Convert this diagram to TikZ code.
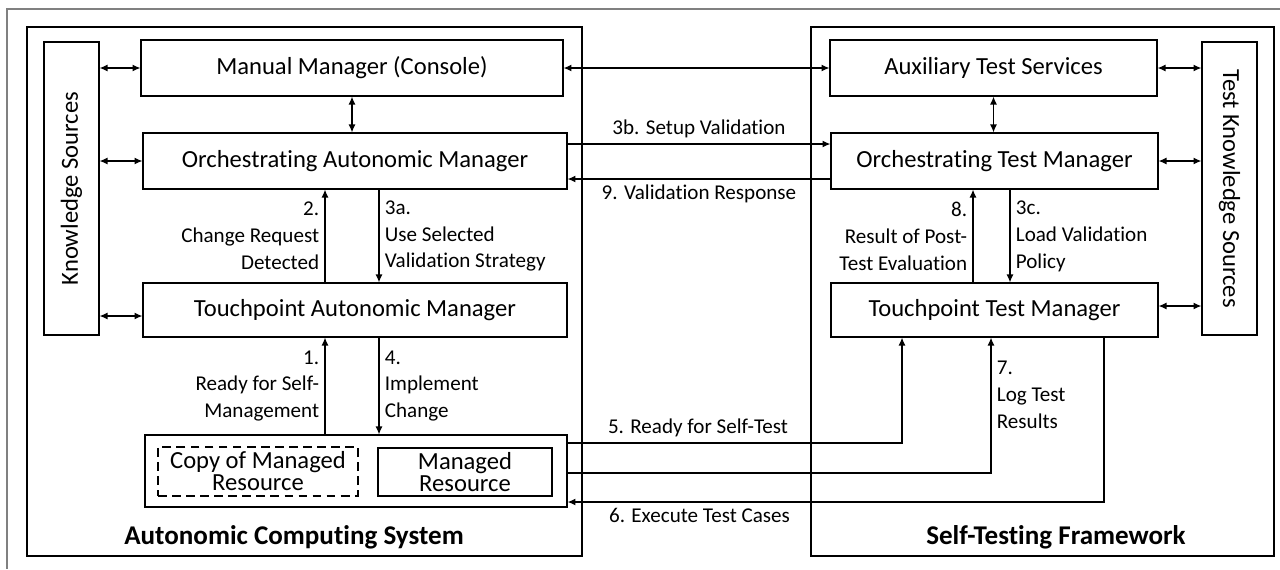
\documentclass[tikz,border=0pt]{standalone}
\usepackage{fontspec}
\setmainfont{Carlito}[RawFeature={-liga;-clig;-dlig;-calt}]
\usetikzlibrary{arrows.meta}

\begin{document}
\begin{tikzpicture}[x=0.02cm, y=-0.02cm, line width=0.7pt,
    >={Latex[length=4.5pt,width=4pt]},
    box/.style={draw, rectangle, inner sep=0pt, font=\fontsize{14}{16}\selectfont},
    lbl/.style={font=\fontsize{12}{15.3}\selectfont, inner sep=3pt},
    sysname/.style={font=\fontsize{15.4}{18}\selectfont\bfseries}]
    \useasboundingbox (0,0) rectangle (1280,569);
    \draw[gray, line width=0.8pt] (1280,9) -- (7,9) -- (7,569);

    % Define nodes
    \node (acs) at (304.5,291.5) [draw, minimum width=11.1cm, minimum height=10.58cm] {};
    \node (stf) at (1042.5,291.5) [draw, minimum width=9.26cm, minimum height=10.58cm] {};
    \node (ks) at (71.5,188.5) [box, rotate=90, minimum width=5.86cm, minimum height=1.1cm] {Knowledge Sources};
    \node (mm) at (352,68) [box, minimum width=8.44cm, minimum height=1.12cm] {Manual Manager (Console)};
    \node (oam) at (355,161) [box, minimum width=8.48cm, minimum height=1.12cm] {Orchestrating Autonomic Manager};
    \node (tam) at (355,310) [box, minimum width=8.48cm, minimum height=1.08cm] {Touchpoint Autonomic Manager};
    \node (res) at (356,471) [box, minimum width=8.44cm, minimum height=1.44cm] {};
    \node (copy) at (258,471.5) [box, dash pattern=on 5pt off 3pt, align=center, minimum width=4cm, minimum height=0.98cm, font=\fontsize{14}{12.5}\selectfont] {Copy of Managed\\Resource};
    \node (mr) at (465,472) [box, align=center, minimum width=3.48cm, minimum height=0.96cm, font=\fontsize{14}{12.5}\selectfont] {Managed\\Resource};
    \node (ats) at (993.5,68) [box, minimum width=6.54cm, minimum height=1.12cm] {Auxiliary Test Services};
    \node (otm) at (994.5,161) [box, minimum width=6.54cm, minimum height=1.12cm] {Orchestrating Test Manager};
    \node (ttm) at (994.5,310) [box, minimum width=6.54cm, minimum height=1.08cm] {Touchpoint Test Manager};
    \node (tks) at (1229.5,188.5) [box, rotate=-90, minimum width=5.86cm, minimum height=1.1cm] {Test Knowledge Sources};
    \node (acsname) at (294,537) [sysname] {Autonomic Computing System};
    \node (stfname) at (1056,537) [sysname] {Self-Testing Framework};

    % Draw arrows
    \draw[<->] (ks.south |- mm.west) -- (mm.west);
    \draw[<->] (ks.south |- oam.west) -- (oam.west);
    \draw[<->] ([yshift=-0.12cm]tam.west -| ks.south) -- ([yshift=-0.12cm]tam.west);
    \draw[<->] (mm.south) -- (mm.south |- oam.north);
    \draw[<->] (mm.east) -- (ats.west);
    \draw[<->] (ats.east) -- (tks.south |- ats.east);
    \draw[<->] (otm.east) -- (tks.south |- otm.east);
    \draw[<->] ([yshift=0.08cm]ttm.east) -- ([yshift=0.08cm]tks.south |- ttm.east);
    \draw[<->] (ats.south) -- (ats.south |- otm.north);

    % Arrows with labels
    \draw[->] ([xshift=-0.6cm]tam.north) -- node[lbl, left, align=right] {2.\\Change Request\\Detected} ([xshift=-0.6cm]tam.north |- oam.south);
    \draw[->] ([xshift=0.48cm]oam.south) -- node[lbl, right, align=left] {3a.\\Use Selected\\Validation Strategy} ([xshift=0.48cm]oam.south |- tam.north);
    \draw[->] ([xshift=-0.6cm]tam.south |- res.north) -- node[lbl, left, align=right] {1.\\Ready for Self-\\Management} ([xshift=-0.6cm]tam.south);
    \draw[->] ([xshift=0.48cm]tam.south) -- node[lbl, right, align=left] {4.\\Implement\\Change} ([xshift=0.48cm]tam.south |- res.north);
    \draw[->] ([xshift=-0.43cm]ttm.north) -- node[lbl, left, align=right] {8.\\Result of Post-\\Test Evaluation} ([xshift=-0.43cm]ttm.north |- otm.south);
    \draw[->] ([xshift=0.31cm]otm.south) -- node[lbl, right, align=left] {3c.\\Load Validation\\Policy} ([xshift=0.31cm]otm.south |- ttm.north);
    \draw[->] ([yshift=0.34cm]oam.east) -- node[lbl, above] {3b. Setup Validation} ([yshift=0.34cm]oam.east -| otm.west);
    \draw[->] ([yshift=-0.36cm]otm.west) -- node[lbl, below] {9. Validation Response} ([yshift=-0.36cm]otm.west -| oam.east);
    \draw[->] ([yshift=0.56cm]res.east) -| node[lbl, above, pos=0.195] {5. Ready for Self-Test} ([xshift=-1.85cm]ttm.south);
    \draw[->] ([yshift=-0.04cm]res.east) -| node[lbl, right, align=left, pos=0.79] {7.\\Log Test\\Results} ([xshift=-0.07cm]ttm.south);
    \draw[->] ([xshift=2.19cm]ttm.south) |- node[lbl, below, pos=0.877] {6. Execute Test Cases} ([yshift=-0.62cm]res.east);
\end{tikzpicture}
\end{document}
